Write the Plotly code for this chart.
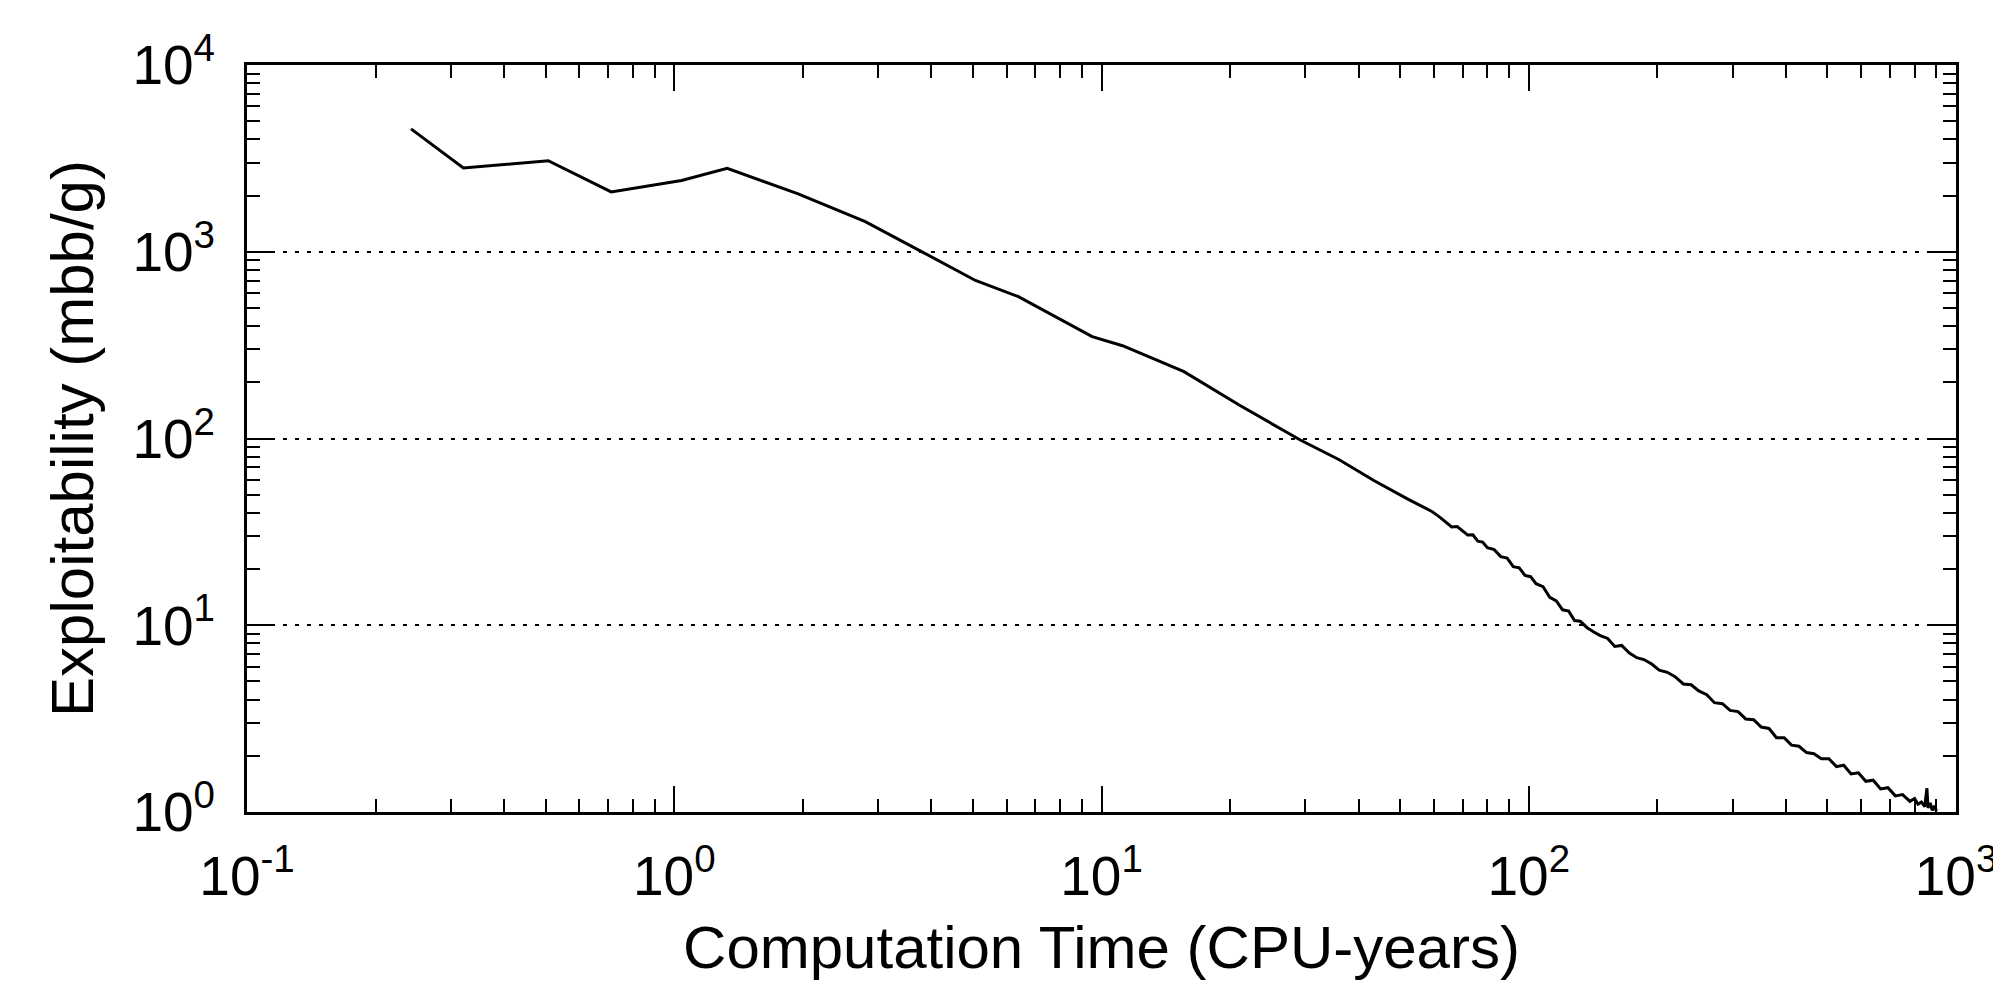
import plotly.graph_objects as go

# Computation time (CPU-years) and exploitability (mbb/g)
cpu_years = [
    0.242, 0.321, 0.507, 0.712, 1.04, 1.33, 1.95, 2.80, 3.83, 5.07, 6.39, 9.51,
    11.2, 15.6, 21.0, 29.2, 36.0, 43.4, 52.0, 59.3,
    62, 64, 66, 68, 70, 72, 74, 76, 78, 80, 83, 86, 89, 92, 95, 98, 101, 104,
    108, 112, 116, 120, 124, 128, 132, 137, 142, 147, 153, 159, 165, 172, 179,
    186, 194, 202, 211, 220, 230, 240, 250, 261, 272, 284, 296, 309, 322, 336,
    350, 365, 380, 396, 412, 429, 447, 465, 484, 504, 525, 546, 568, 591, 615,
    640, 666, 693, 721, 750, 780, 800, 815, 830, 845, 855, 860, 870, 880, 890, 900,
]
exploitability = [
    4550, 2810, 3070, 2090, 2410, 2800, 2040, 1450, 990, 702, 575, 351,
    314, 228, 151, 98.2, 77.0, 59.6, 47.5, 40.7,
    37.8, 35.5, 33.6, 33.8, 32.0, 30.4, 30.5, 28.2, 27.9, 26.0, 25.4, 23.3,
    22.9, 20.6, 20.3, 18.5, 18.2, 16.7,
    16.1, 14.1, 13.5, 12.1, 11.9, 10.6, 10.5, 9.7, 9.2, 8.8, 8.5, 7.7, 7.8,
    7.1, 6.7, 6.55, 6.2, 5.75, 5.6, 5.3, 4.85, 4.8, 4.45, 4.25, 3.85, 3.8, 3.5,
    3.45, 3.15, 3.12, 2.85, 2.8, 2.5, 2.5, 2.28, 2.25, 2.08, 2.05, 1.93, 1.93,
    1.75, 1.78, 1.6, 1.62, 1.46, 1.48, 1.33, 1.35, 1.22, 1.24, 1.14, 1.18,
    1.1, 1.13, 1.07, 1.34, 1.05, 1.12, 1.02, 1.08, 1.01,
]

x_tickvals = [0.1, 1, 10, 100, 1000]
x_ticktext = ["10<sup>-1</sup>", "10<sup>0</sup>", "10<sup>1</sup>", "10<sup>2</sup>", "10<sup>3</sup>"]
y_tickvals = [1, 10, 100, 1000, 10000]
y_ticktext = ["10<sup>0</sup>", "10<sup>1</sup>", "10<sup>2</sup>", "10<sup>3</sup>", "10<sup>4</sup>"]

FONT = "Liberation Sans, Arial, Helvetica, sans-serif"

x_minor = [m * 10 ** e for e in range(-1, 3) for m in range(2, 10)]
y_minor = [m * 10 ** e for e in range(0, 4) for m in range(2, 10)]

fig = go.Figure()
fig.add_trace(go.Scatter(
    x=cpu_years, y=exploitability, mode="lines",
    line=dict(color="black", width=3), showlegend=False,
))

fig.update_layout(
    width=2001, height=990,
    margin=dict(l=239, r=53, t=57, b=186),
    paper_bgcolor="white", plot_bgcolor="white",
    font=dict(family=FONT, color="black", size=55),
    xaxis=dict(
        type="log", range=[-1, 3],
        tickmode="array", tickvals=x_tickvals, ticktext=x_ticktext,
        ticks="inside", ticklen=26, tickwidth=2, tickcolor="black",
        ticklabelstandoff=14,
        showline=True, linecolor="black", linewidth=3, mirror="ticks",
        showgrid=False, zeroline=False,
        minor=dict(tickmode="array", tickvals=x_minor, ticks="inside",
                   ticklen=13, tickwidth=2, tickcolor="black", showgrid=False),
        title=dict(text="Computation Time (CPU-years)", font=dict(size=60), standoff=20),
        tickfont=dict(size=55),
    ),
    yaxis=dict(
        type="log", range=[0, 4],
        tickmode="array", tickvals=y_tickvals, ticktext=y_ticktext,
        ticks="inside", ticklen=26, tickwidth=2, tickcolor="black",
        ticklabelstandoff=18,
        showline=True, linecolor="black", linewidth=3, mirror="ticks",
        showgrid=True, gridcolor="black", gridwidth=2, griddash="4px,8px",
        zeroline=False,
        minor=dict(tickmode="array", tickvals=y_minor, ticks="inside",
                   ticklen=13, tickwidth=2, tickcolor="black", showgrid=False),
        title=dict(text="Exploitability (mbb/g)", font=dict(size=60), standoff=20),
        tickfont=dict(size=55),
    ),
)

fig.write_html("out.html")
